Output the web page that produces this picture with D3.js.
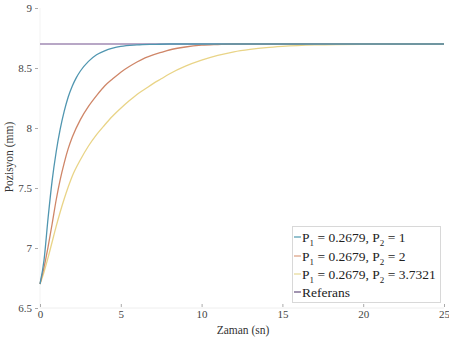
<!DOCTYPE html>
<html><head><meta charset="utf-8">
<script src="https://cdn.jsdelivr.net/npm/d3@7"></script>
</head><body style="margin:0;background:#fff"><svg id="c" width="449" height="345" style="display:block"></svg>
<script>
const blueTimes = [0,0.25,0.5,0.75,1,1.25,1.5,1.75,2,2.25,2.5,3,3.5,4,4.5,5,6,7,8,25];
const blue      = [6.70,6.90,7.25,7.56,7.80,7.99,8.14,8.26,8.35,8.42,8.475,8.555,8.61,8.643,8.665,8.68,8.692,8.697,8.70,8.70];
const orangeTimes = [0,0.25,0.5,0.75,1,1.25,1.5,1.75,2,2.5,3,3.5,4,4.5,5,5.5,6,6.5,7,7.5,8,9,10,11,12,25];
const orange      = [6.70,6.84,7.01,7.20,7.40,7.57,7.71,7.83,7.925,8.07,8.18,8.27,8.35,8.41,8.465,8.51,8.55,8.585,8.61,8.63,8.65,8.675,8.69,8.696,8.70,8.70];
const yellowTimes = [0,0.25,0.5,0.75,1,1.25,1.5,1.75,2,2.5,3,3.5,4,4.5,5,5.5,6,6.5,7,7.5,8,9,10,11,12,13,14,15,17,20,25];
const yellow      = [6.70,6.80,6.92,7.05,7.18,7.30,7.41,7.51,7.60,7.735,7.85,7.945,8.025,8.10,8.165,8.225,8.28,8.325,8.37,8.41,8.45,8.515,8.565,8.605,8.635,8.655,8.67,8.68,8.692,8.698,8.70];
const refTimes = [0,25];
const reference = [8.70,8.70];
const xTicks = [0,5,10,15,20,25];
const yTicks = [6.5,7,7.5,8,8.5,9];
const p2Labels = ["1","2","3.7321"];
const refLabel = "Referans";
const lineColors = ["#5096b0","#cf8668","#e9d487","#a08ab3"];
const swatchColors = ["#5aa0b4","#dda488","#e8dc9c","#6e5a86"];

const FF = '"Liberation Serif", serif';
const svg = d3.select("#c");
const x = d3.scaleLinear().domain([0,25]).range([40,444]);
const y = d3.scaleLinear().domain([6.5,9]).range([308,8]);

svg.append("line").attr("x1",x(0)).attr("x2",x(25)).attr("y1",y(6.5)).attr("y2",y(6.5)).attr("stroke","#eeeeee");
svg.append("line").attr("x1",x(0)).attr("x2",x(0)).attr("y1",y(6.5)).attr("y2",y(9)).attr("stroke","#f3f3f3");

const gx = svg.append("g").attr("transform",`translate(0,${y(6.5)})`)
  .call(d3.axisBottom(x).tickValues(xTicks).tickSize(0).tickPadding(0).tickFormat(d3.format("d")));
gx.select(".domain").remove();
gx.selectAll("text").attr("font-size",11).attr("fill","#444").attr("dy","0.95em");
gx.selectAll(".tick").append("line").attr("y1",-4).attr("y2",-1).attr("stroke","#aaa");

const gy = svg.append("g").attr("transform",`translate(${x(0)},0)`)
  .call(d3.axisLeft(y).tickValues(yTicks).tickSize(0).tickPadding(8).tickFormat(d=>String(d)));
gy.select(".domain").remove();
gy.selectAll("text").attr("font-size",11).attr("fill","#444");
gy.selectAll(".tick").append("line").attr("x1",-5).attr("x2",-2).attr("stroke","#aaa");

svg.append("text").attr("x",243).attr("y",334).attr("text-anchor","middle").attr("font-size",11.5).attr("fill","#333").text("Zaman (sn)");
svg.append("text").attr("transform","translate(13,157) rotate(-90)").attr("text-anchor","middle").attr("font-size",11.5).attr("fill","#333").text("Pozisyon (mm)");

const line = d3.line().x(d=>x(d[0])).y(d=>y(d[1])).curve(d3.curveMonotoneX);
const data = [d3.zip(blueTimes,blue), d3.zip(orangeTimes,orange), d3.zip(yellowTimes,yellow), d3.zip(refTimes,reference)];
[3,2,1,0].forEach(i=>{
  svg.append("path").datum(data[i]).attr("d",line).attr("fill","none")
    .attr("stroke",lineColors[i]).attr("stroke-width",i===3?1.6:1.3);
});

const lg = svg.append("g");
lg.append("rect").attr("x",292.5).attr("y",226.5).attr("width",148).attr("height",76).attr("fill","#fff").attr("stroke","#d8d8d8");
const rowY = [237,256,274,292];
for(let i=0;i<4;i++){
  lg.append("line").attr("x1",294).attr("x2",301).attr("y1",rowY[i]).attr("y2",rowY[i]).attr("stroke",swatchColors[i]).attr("stroke-width",1.3);
  const t = lg.append("text").attr("x",302).attr("y",rowY[i]+4.5).attr("font-size",13.5).attr("fill","#222");
  if(i<3){
    t.append("tspan").text("P");
    t.append("tspan").attr("font-size",9).attr("dy",4).text("1");
    t.append("tspan").attr("dy",-4).text(" = 0.2679, P");
    t.append("tspan").attr("font-size",9).attr("dy",4).text("2");
    t.append("tspan").attr("dy",-4).text(" = " + p2Labels[i]);
  } else {
    t.text(refLabel);
  }
}
// apply serif font with highest priority on every text and group
svg.selectAll("g, text, tspan").each(function(){
  this.removeAttribute("font-family");
  this.style.setProperty("font-family", FF, "important");
});
</script></body></html>
